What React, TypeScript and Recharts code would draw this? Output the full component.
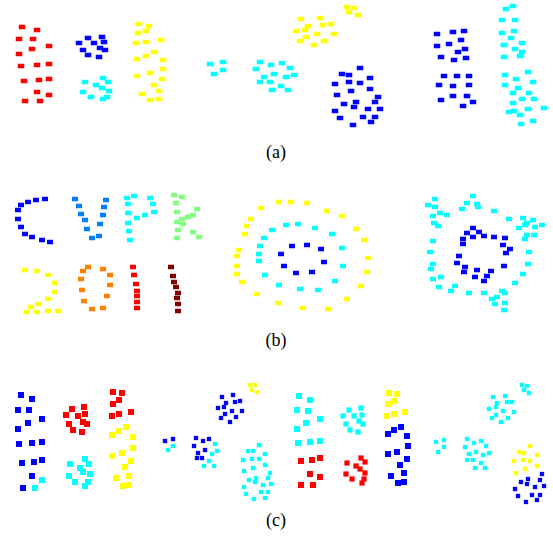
import React from "react";
import { ScatterChart, Scatter, XAxis, YAxis } from "recharts";

// ---- Panel (a): clusters ----
const aRed = [[22,27],[37,30],[19,39],[33,39],[49,46],[32,49],[19,54],[21,66],[37,65],[49,64],[24,81],[39,80],[49,79],[37,92],[49,95],[25,101],[40,101]];
const aBlueL = [[88,38],[102,37],[79,43],[94,43],[104,42],[83,50],[100,48],[105,50],[88,55],[99,57]];
const aCyanL = [[103,78],[108,82],[85,82],[96,85],[102,88],[109,91],[83,92],[91,97],[107,97],[103,99]];
const aYellowL = [[139,24],[149,26],[146,31],[138,33],[136,43],[146,42],[161,40],[154,52],[146,56],[137,59],[163,60],[163,69],[150,73],[137,76],[162,79],[154,85],[159,91],[142,94],[150,100],[159,99]];
const aYellowSmall = [[347,7],[354,8],[349,12],[358,15]];
const aYellowMid = [[301,19],[320,18],[308,26],[323,25],[331,24],[296,31],[305,30],[317,34],[334,34],[306,37],[300,41],[324,41],[314,45]];
const aCyanSmall = [[210,64],[223,62],[214,74],[223,70]];
const aCyanMid = [[260,62],[271,65],[282,63],[256,69],[290,68],[274,74],[264,77],[294,75],[286,77],[260,82],[270,82],[281,86],[272,90],[288,90]];
const aBlueMid = [[360,68],[342,74],[349,75],[370,78],[335,84],[349,82],[360,83],[370,89],[351,91],[337,95],[378,97],[356,102],[344,104],[375,102],[354,107],[335,111],[368,109],[380,109],[340,118],[363,117],[375,117],[371,122],[353,125]];
const aBlueRU = [[437,34],[453,32],[464,31],[437,46],[449,44],[461,40],[458,52],[465,49],[441,57],[454,60],[466,58]];
const aBlueRL = [[444,76],[457,76],[469,76],[439,85],[453,86],[469,85],[441,100],[453,96],[467,96],[473,102],[463,106]];
const aCyanRU = [[513,6],[506,9],[502,20],[515,20],[502,33],[514,31],[511,38],[522,43],[504,45],[515,49],[522,52],[520,56],[504,57]];
const aCyanRL = [[505,75],[528,72],[516,79],[533,82],[505,85],[518,88],[513,93],[529,93],[522,99],[534,99],[513,103],[528,109],[544,108],[509,112],[514,111],[520,115],[533,121],[521,124]];

// ---- Panel (b): letters and rings ----
const bC = [[45,199],[36,200],[28,202],[21,205],[18,210],[18,219],[21,227],[25,234],[32,237],[42,240],[50,242]];
const bV = [[75,199],[106,200],[79,206],[104,207],[81,214],[103,215],[85,220],[100,224],[87,229],[99,236],[92,238]];
const bP = [[127,198],[134,196],[150,198],[128,204],[153,204],[128,213],[154,212],[137,218],[145,215],[128,223],[129,231],[130,240]];
const bR = [[174,195],[182,197],[176,203],[197,209],[193,215],[177,212],[188,217],[182,219],[177,222],[183,224],[178,230],[193,232],[199,237],[177,238]];
const bTwo = [[25,270],[37,271],[48,275],[55,283],[55,292],[48,299],[38,304],[31,307],[27,312],[37,312],[48,311],[58,311]];
const bZero = [[88,267],[83,271],[103,269],[110,275],[81,279],[110,285],[82,290],[107,296],[84,301],[92,309],[103,308]];
const bOneA = [[133,267],[134,275],[136,284],[137,291],[137,296],[137,302],[137,308]];
const bOneB = [[171,267],[173,276],[174,282],[176,287],[178,293],[177,298],[178,304],[178,311]];
const bRingOuter = [[279,202],[291,202],[307,203],[261,208],[327,211],[251,219],[342,216],[247,226],[356,229],[245,234],[364,240],[239,250],[237,256],[368,258],[237,266],[367,272],[237,274],[242,282],[361,286],[257,294],[347,299],[278,303],[303,308],[328,309]];
const bRingMiddle = [[286,225],[298,224],[272,230],[315,228],[264,238],[332,234],[260,246],[342,248],[259,254],[259,261],[343,266],[265,275],[335,281],[279,285],[300,289],[318,290]];
const bRingInner = [[292,246],[307,245],[321,249],[281,254],[324,262],[284,266],[296,273],[312,272]];
const bShapeOuter = [[435,199],[473,196],[428,205],[435,207],[467,203],[477,204],[478,207],[462,209],[494,211],[433,216],[440,213],[447,215],[434,223],[438,226],[509,219],[523,218],[533,220],[527,223],[525,225],[519,228],[542,225],[535,227],[527,235],[534,235],[525,239],[433,241],[430,252],[529,252],[433,264],[431,269],[528,264],[433,279],[441,277],[523,274],[439,287],[455,286],[451,291],[469,293],[484,293],[515,283],[502,291],[505,293],[497,297],[492,299],[495,304],[505,303],[504,310]];
const bShapeInner = [[473,228],[467,233],[479,232],[484,236],[473,237],[463,239],[494,237],[505,238],[463,244],[503,245],[510,249],[506,253],[459,256],[457,263],[465,267],[504,266],[464,272],[477,270],[491,271],[475,277],[487,276],[484,281]];

// ---- Panel (c): clusters ----
const cBlueL = [[21,395],[32,399],[18,410],[29,410],[42,419],[28,423],[18,429],[19,444],[32,443],[42,442],[22,463],[34,462],[42,460],[32,476],[23,488]];
const cCyanTail = [[42,480],[35,488]];
const cRedL = [[72,409],[84,407],[66,415],[78,416],[85,414],[69,424],[83,422],[87,424],[73,430],[82,432]];
const cCyanL = [[85,459],[70,464],[89,464],[80,468],[83,472],[90,474],[69,476],[75,482],[88,482],[85,486]];
const cRedCol = [[113,392],[122,393],[119,400],[113,404],[112,416],[119,414],[131,412]];
const cYellowCol = [[126,427],[119,431],[112,435],[133,437],[133,448],[122,453],[112,456],[131,461],[125,467],[116,478],[129,476],[123,486],[129,485]];
const cBlueTiny = [[165,441],[173,439]];
const cCyanTiny = [[173,446],[168,450]];
const cYellowTiny = [[250,385],[255,385],[252,390],[257,392]];
const cBlueUpper = [[222,397],[233,395],[226,403],[235,402],[240,401],[218,408],[224,407],[232,411],[242,411],[225,414],[221,418],[236,417],[230,422]];
const cBlueLower = [[196,438],[203,441],[209,439],[194,446],[205,450],[198,453],[197,458],[202,458]];
const cCyanLower = [[215,444],[217,451],[212,454],[209,461],[204,466],[214,466]];
const cCyanBig = [[259,445],[248,451],[253,451],[265,454],[243,460],[252,459],[259,459],[265,465],[253,468],[244,471],[270,473],[256,478],[249,480],[255,482],[268,478],[263,485],[271,484],[244,487],[261,492],[268,492],[246,494],[254,499],[265,498]];
const cCyanCol = [[299,396],[310,400],[297,410],[308,411],[320,419],[306,423],[297,429],[298,443],[310,442],[320,441]];
const cRedCol2 = [[301,461],[312,460],[320,458],[310,474],[320,477],[301,485],[313,485]];
const cCyanR = [[349,410],[361,408],[343,416],[354,416],[362,415],[346,424],[359,421],[363,424],[350,430],[358,432]];
const cRedR = [[347,463],[361,458],[365,462],[356,466],[360,469],[365,473],[346,474],[352,479],[364,479],[362,483]];
const cYellowR = [[389,393],[397,394],[394,401],[388,404],[387,416],[394,414],[405,412]];
const cBlueR = [[401,427],[394,430],[388,434],[407,436],[408,446],[397,452],[388,454],[407,459],[400,465],[391,476],[404,473],[398,483],[404,482]];
const cCyanSmall = [[436,442],[444,440],[444,447],[438,452]];
const cCyanMid = [[467,439],[474,443],[481,441],[465,447],[486,446],[476,452],[469,454],[483,455],[489,453],[467,460],[473,460],[481,463],[475,468],[485,468]];
const cCyanTop = [[522,385],[527,386],[524,390],[529,393],[493,397],[505,396],[497,403],[507,402],[512,402],[489,409],[496,407],[503,411],[514,412],[496,415],[492,418],[508,418],[501,422]];
const cYellowLR = [[530,446],[519,452],[524,453],[537,455],[514,461],[523,460],[530,461],[537,466],[525,469],[516,473]];
const cBlueLR = [[542,474],[528,479],[521,482],[540,480],[527,484],[544,486],[535,487],[515,489],[518,496],[532,495],[540,495],[526,502],[537,500]];

// Sub-figure captions
const captions = [
  { text: "(a)", x: 276, y: 158 },
  { text: "(b)", x: 276, y: 346 },
  { text: "(c)", x: 276, y: 526 },
];

const RED = "#ff0000";
const BLUE = "#0000ff";
const CYAN = "#00ffff";
const YELLOW = "#ffff00";

type Series = { pts: number[][]; color: string; w: number; h: number };

const seriesList: Series[] = [
  // (a)
  ...[
    [aRed, RED], [aBlueL, BLUE], [aCyanL, CYAN], [aYellowL, YELLOW],
    [aYellowSmall, YELLOW], [aYellowMid, YELLOW], [aCyanSmall, CYAN], [aCyanMid, CYAN],
    [aBlueMid, BLUE], [aBlueRU, BLUE], [aBlueRL, BLUE], [aCyanRU, CYAN], [aCyanRL, CYAN],
  ].map(([pts, color]) => ({ pts: pts as number[][], color: color as string, w: 6.5, h: 4.5 })),
  // (b)
  ...[
    [bC, "#0000ff"], [bV, "#0080ff"], [bP, "#00ffff"], [bR, "#80ff80"],
    [bTwo, "#ffff00"], [bZero, "#ff8000"], [bOneA, "#ff0000"], [bOneB, "#800000"],
    [bRingOuter, YELLOW], [bRingMiddle, CYAN], [bRingInner, BLUE],
    [bShapeOuter, CYAN], [bShapeInner, BLUE],
  ].map(([pts, color]) => ({ pts: pts as number[][], color: color as string, w: 6, h: 4.5 })),
  // (c) large markers
  ...[
    [cBlueL, BLUE], [cCyanTail, CYAN], [cRedL, RED], [cCyanL, CYAN], [cRedCol, RED], [cYellowCol, YELLOW],
    [cCyanCol, CYAN], [cRedCol2, RED], [cYellowR, YELLOW], [cBlueR, BLUE],
  ].map(([pts, color]) => ({ pts: pts as number[][], color: color as string, w: 6, h: 6 })),
  // (c) medium markers
  ...[
    [cCyanR, CYAN], [cRedR, RED],
  ].map(([pts, color]) => ({ pts: pts as number[][], color: color as string, w: 5.2, h: 5.2 })),
  // (c) small markers
  ...[
    [cBlueTiny, BLUE], [cCyanTiny, CYAN], [cYellowTiny, YELLOW], [cBlueUpper, BLUE],
    [cBlueLower, BLUE], [cCyanLower, CYAN], [cCyanBig, CYAN], [cCyanSmall, CYAN],
    [cCyanMid, CYAN], [cCyanTop, CYAN], [cYellowLR, YELLOW], [cBlueLR, BLUE],
  ].map(([pts, color]) => ({ pts: pts as number[][], color: color as string, w: 4.3, h: 4.3 })),
];

const W = 553;
const H = 544;

const makeShape = (w: number, h: number, color: string) => (props: any) => {
  const { cx, cy } = props;
  if (cx == null || cy == null) return <g />;
  return <rect x={cx - w / 2} y={cy - h / 2} width={w} height={h} fill={color} />;
};

export default function App() {
  return (
    <div style={{ position: "absolute", left: 0, top: 0, width: W, height: H, background: "#fff" }}>
      <ScatterChart width={W} height={H} margin={{ top: 0, right: 0, bottom: 0, left: 0 }}>
        <XAxis type="number" dataKey="x" domain={[0, W]} hide />
        <YAxis type="number" dataKey="y" domain={[0, H]} reversed hide />
        {seriesList.map((s, i) => (
          <Scatter
            key={i}
            data={s.pts.map(([x, y]) => ({ x, y }))}
            fill={s.color}
            shape={makeShape(s.w, s.h, s.color)}
            isAnimationActive={false}
          />
        ))}
      </ScatterChart>
      <svg
        width={W}
        height={H}
        style={{ position: "absolute", left: 0, top: 0, pointerEvents: "none" }}
      >
        {captions.map((c) => (
          <text
            key={c.text}
            x={c.x}
            y={c.y}
            textAnchor="middle"
            fontFamily="'Liberation Serif', 'DejaVu Serif', serif"
            fontSize={18}
            fill="#000"
          >
            {c.text}
          </text>
        ))}
      </svg>
    </div>
  );
}
